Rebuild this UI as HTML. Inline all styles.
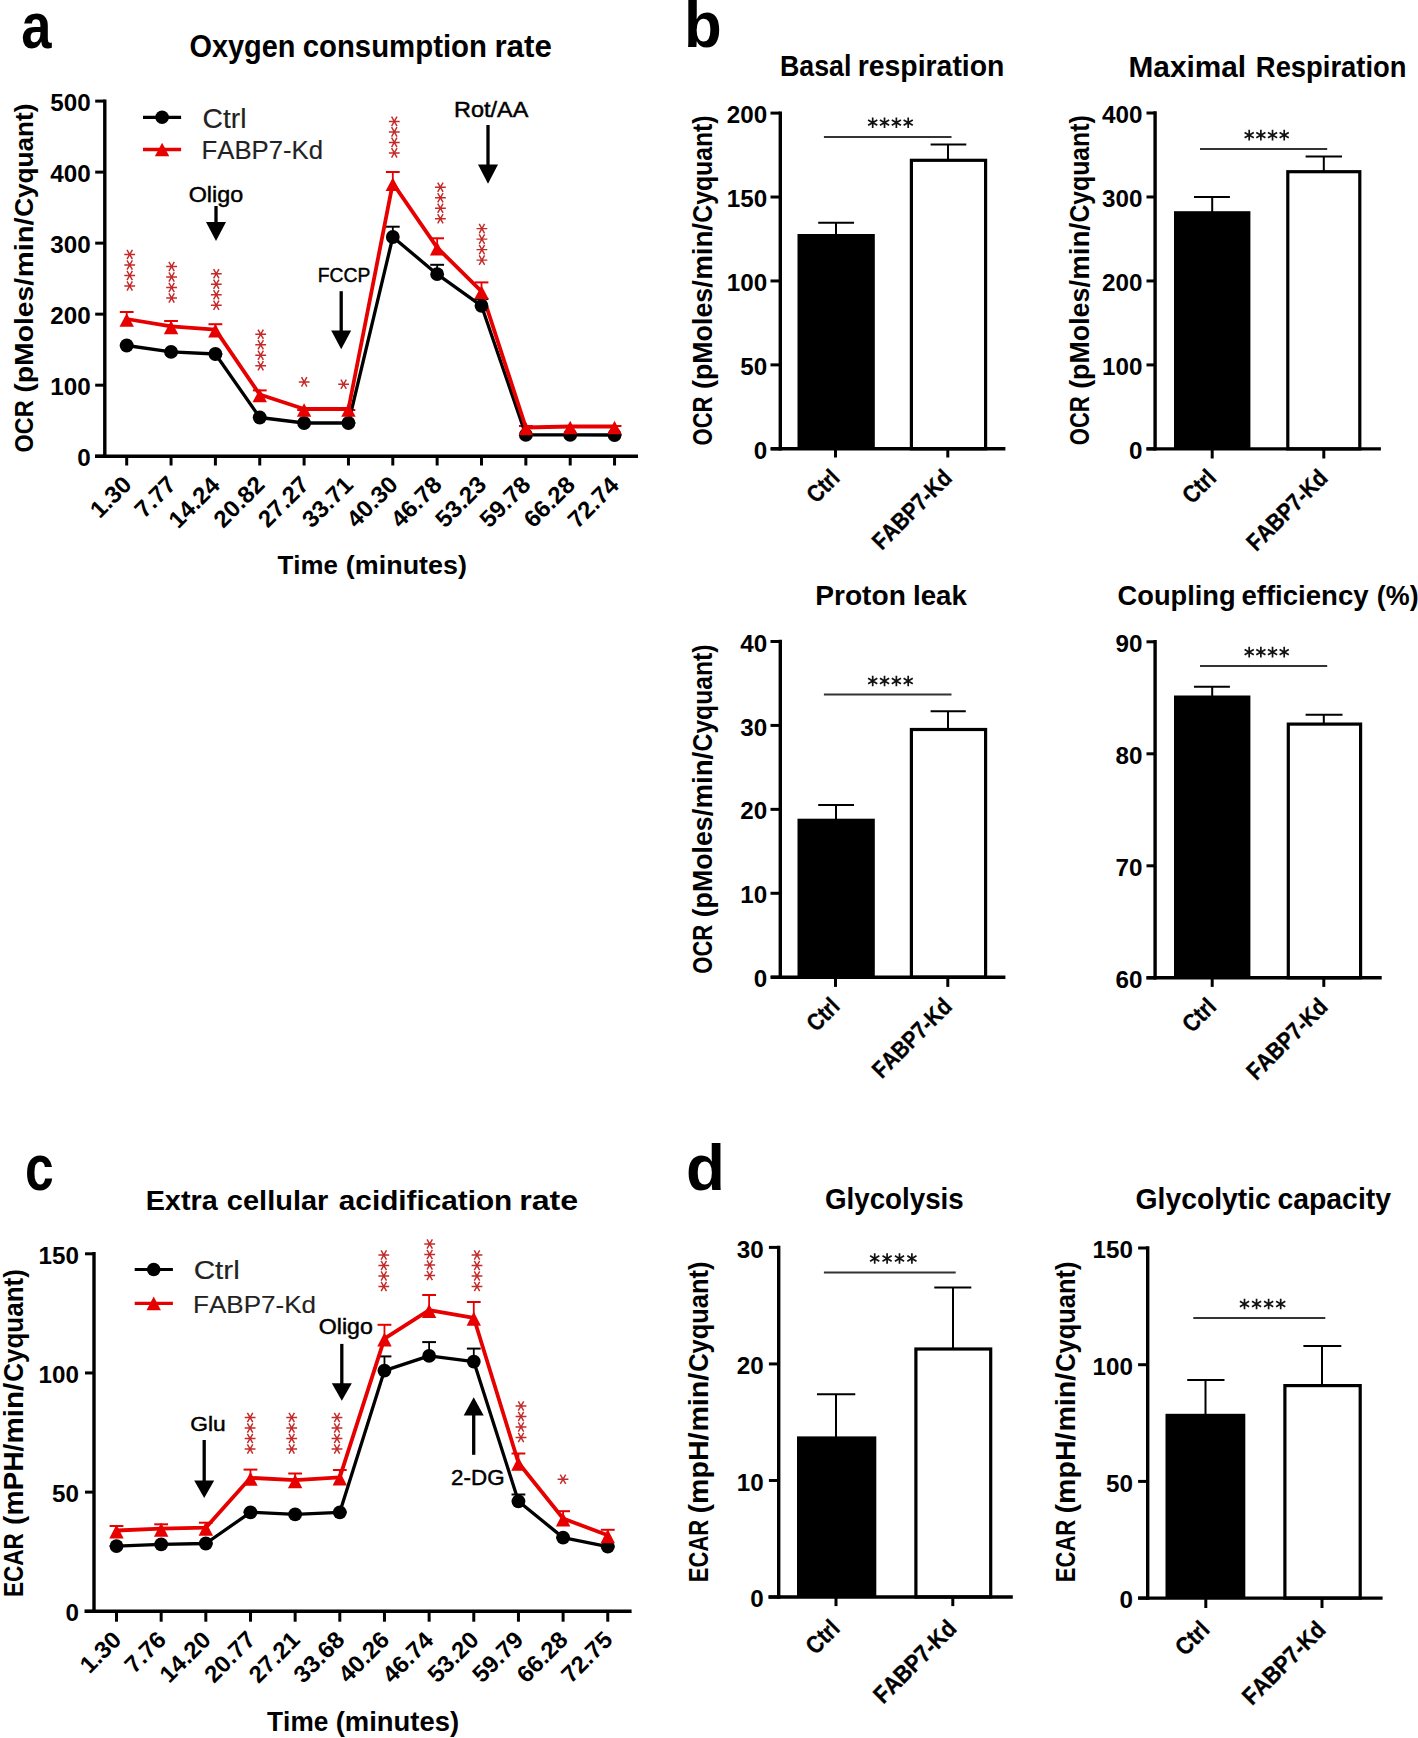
<!DOCTYPE html>
<html><head><meta charset="utf-8"><style>
html,body{margin:0;padding:0;background:#fff;}
svg{display:block;}
text{font-family:"Liberation Sans", sans-serif;font-kerning:none;}
</style></head><body>
<svg width="1418" height="1738" viewBox="0 0 1418 1738">
<rect width="1418" height="1738" fill="#fff"/>
<text transform="translate(21.21,47.57) scale(0.8489,1)" font-size="64.07" font-weight="bold" fill="#000">a</text>
<text transform="translate(189.41,56.70) scale(0.9096,1)" font-size="31.79" font-weight="bold" fill="#000">Oxygen</text>
<text transform="translate(302.65,56.70) scale(0.9238,1)" font-size="31.79" font-weight="bold" fill="#000">consumption</text>
<text transform="translate(494.44,56.70) scale(0.9847,1)" font-size="31.79" font-weight="bold" fill="#000">rate</text>
<text transform="translate(33.00,452.46) rotate(-90) scale(0.8888,1)" font-size="26.45" font-weight="bold" fill="#000">OCR</text>
<text transform="translate(33.00,392.71) rotate(-90) scale(1.0718,1)" font-size="26.45" font-weight="bold" fill="#000">(pMoles/</text>
<text transform="translate(33.00,277.33) rotate(-90) scale(1.1054,1)" font-size="26.45" font-weight="bold" fill="#000">min/</text>
<text transform="translate(33.00,216.87) rotate(-90) scale(0.9891,1)" font-size="26.45" font-weight="bold" fill="#000">Cyquant)</text>
<line x1="104.80" y1="99.40" x2="104.80" y2="457.90" stroke="#000" stroke-width="3.4" stroke-linecap="butt"/>
<line x1="95.20" y1="456.20" x2="104.80" y2="456.20" stroke="#000" stroke-width="3.0" stroke-linecap="butt"/>
<text transform="translate(77.31,466.32) scale(1.0270,1)" font-size="23.60" font-weight="bold" fill="#000">0</text>
<line x1="95.20" y1="385.18" x2="104.80" y2="385.18" stroke="#000" stroke-width="3.0" stroke-linecap="butt"/>
<text transform="translate(50.35,395.30) scale(1.0270,1)" font-size="23.60" font-weight="bold" fill="#000">100</text>
<line x1="95.20" y1="314.16" x2="104.80" y2="314.16" stroke="#000" stroke-width="3.0" stroke-linecap="butt"/>
<text transform="translate(50.35,324.28) scale(1.0270,1)" font-size="23.60" font-weight="bold" fill="#000">200</text>
<line x1="95.20" y1="243.14" x2="104.80" y2="243.14" stroke="#000" stroke-width="3.0" stroke-linecap="butt"/>
<text transform="translate(50.35,253.26) scale(1.0270,1)" font-size="23.60" font-weight="bold" fill="#000">300</text>
<line x1="95.20" y1="172.12" x2="104.80" y2="172.12" stroke="#000" stroke-width="3.0" stroke-linecap="butt"/>
<text transform="translate(50.35,182.24) scale(1.0270,1)" font-size="23.60" font-weight="bold" fill="#000">400</text>
<line x1="95.20" y1="101.10" x2="104.80" y2="101.10" stroke="#000" stroke-width="3.0" stroke-linecap="butt"/>
<text transform="translate(50.35,111.22) scale(1.0270,1)" font-size="23.60" font-weight="bold" fill="#000">500</text>
<line x1="95.00" y1="456.20" x2="638.00" y2="456.20" stroke="#000" stroke-width="3.4" stroke-linecap="butt"/>
<line x1="126.70" y1="456.20" x2="126.70" y2="465.50" stroke="#000" stroke-width="3.0" stroke-linecap="butt"/>
<line x1="171.05" y1="456.20" x2="171.05" y2="465.50" stroke="#000" stroke-width="3.0" stroke-linecap="butt"/>
<line x1="215.40" y1="456.20" x2="215.40" y2="465.50" stroke="#000" stroke-width="3.0" stroke-linecap="butt"/>
<line x1="259.75" y1="456.20" x2="259.75" y2="465.50" stroke="#000" stroke-width="3.0" stroke-linecap="butt"/>
<line x1="304.10" y1="456.20" x2="304.10" y2="465.50" stroke="#000" stroke-width="3.0" stroke-linecap="butt"/>
<line x1="348.45" y1="456.20" x2="348.45" y2="465.50" stroke="#000" stroke-width="3.0" stroke-linecap="butt"/>
<line x1="392.80" y1="456.20" x2="392.80" y2="465.50" stroke="#000" stroke-width="3.0" stroke-linecap="butt"/>
<line x1="437.15" y1="456.20" x2="437.15" y2="465.50" stroke="#000" stroke-width="3.0" stroke-linecap="butt"/>
<line x1="481.50" y1="456.20" x2="481.50" y2="465.50" stroke="#000" stroke-width="3.0" stroke-linecap="butt"/>
<line x1="525.85" y1="456.20" x2="525.85" y2="465.50" stroke="#000" stroke-width="3.0" stroke-linecap="butt"/>
<line x1="570.20" y1="456.20" x2="570.20" y2="465.50" stroke="#000" stroke-width="3.0" stroke-linecap="butt"/>
<line x1="614.55" y1="456.20" x2="614.55" y2="465.50" stroke="#000" stroke-width="3.0" stroke-linecap="butt"/>
<text transform="translate(132.40,486.70) rotate(-45) scale(1.0270,1)" x="-44.96" font-size="23.60" font-weight="bold" fill="#000">1.30</text>
<text transform="translate(176.75,486.70) rotate(-45) scale(1.0270,1)" x="-44.90" font-size="23.60" font-weight="bold" fill="#000">7.77</text>
<text transform="translate(221.10,486.70) rotate(-45) scale(1.0270,1)" x="-58.93" font-size="23.60" font-weight="bold" fill="#000">14.24</text>
<text transform="translate(265.45,486.70) rotate(-45) scale(1.0270,1)" x="-58.11" font-size="23.60" font-weight="bold" fill="#000">20.82</text>
<text transform="translate(309.80,486.70) rotate(-45) scale(1.0270,1)" x="-58.02" font-size="23.60" font-weight="bold" fill="#000">27.27</text>
<text transform="translate(354.15,486.70) rotate(-45) scale(1.0270,1)" x="-58.40" font-size="23.60" font-weight="bold" fill="#000">33.71</text>
<text transform="translate(398.50,486.70) rotate(-45) scale(1.0270,1)" x="-58.09" font-size="23.60" font-weight="bold" fill="#000">40.30</text>
<text transform="translate(442.85,486.70) rotate(-45) scale(1.0270,1)" x="-58.33" font-size="23.60" font-weight="bold" fill="#000">46.78</text>
<text transform="translate(487.20,486.70) rotate(-45) scale(1.0270,1)" x="-58.20" font-size="23.60" font-weight="bold" fill="#000">53.23</text>
<text transform="translate(531.55,486.70) rotate(-45) scale(1.0270,1)" x="-58.33" font-size="23.60" font-weight="bold" fill="#000">59.78</text>
<text transform="translate(575.90,486.70) rotate(-45) scale(1.0270,1)" x="-58.33" font-size="23.60" font-weight="bold" fill="#000">66.28</text>
<text transform="translate(620.25,486.70) rotate(-45) scale(1.0270,1)" x="-58.93" font-size="23.60" font-weight="bold" fill="#000">72.74</text>
<text transform="translate(277.51,574.30) scale(0.9998,1)" font-size="25.87" font-weight="bold" fill="#000">Time</text>
<text transform="translate(345.86,574.30) scale(1.0409,1)" font-size="25.87" font-weight="bold" fill="#000">(minutes)</text>
<line x1="143.00" y1="117.30" x2="181.10" y2="117.30" stroke="#000" stroke-width="3.2" stroke-linecap="butt"/>
<circle cx="162.10" cy="117.30" r="6.8" fill="#000"/>
<line x1="143.00" y1="149.50" x2="181.10" y2="149.50" stroke="#e60000" stroke-width="3.4" stroke-linecap="butt"/>
<polygon points="162.10,142.70 169.30,156.30 154.90,156.30" fill="#e60000"/>
<text transform="translate(202.57,127.90) scale(1.0284,1)" font-size="27.46" font-weight="normal" fill="#222" stroke="#222" stroke-width="0.15">Ctrl</text>
<text transform="translate(201.59,159.20) scale(1.0225,1)" font-size="25.15" font-weight="normal" fill="#222" stroke="#222" stroke-width="0.15">FABP7-Kd</text>
<line x1="126.70" y1="320.00" x2="126.70" y2="312.00" stroke="#e60000" stroke-width="1.8" stroke-linecap="butt"/>
<line x1="119.80" y1="312.00" x2="133.60" y2="312.00" stroke="#e60000" stroke-width="2.0" stroke-linecap="butt"/>
<line x1="126.70" y1="345.50" x2="126.70" y2="345.50" stroke="#000" stroke-width="1.8" stroke-linecap="butt"/>
<line x1="119.80" y1="345.50" x2="133.60" y2="345.50" stroke="#000" stroke-width="2.0" stroke-linecap="butt"/>
<line x1="171.05" y1="327.40" x2="171.05" y2="321.00" stroke="#e60000" stroke-width="1.8" stroke-linecap="butt"/>
<line x1="164.15" y1="321.00" x2="177.95" y2="321.00" stroke="#e60000" stroke-width="2.0" stroke-linecap="butt"/>
<line x1="171.05" y1="351.90" x2="171.05" y2="351.90" stroke="#000" stroke-width="1.8" stroke-linecap="butt"/>
<line x1="164.15" y1="351.90" x2="177.95" y2="351.90" stroke="#000" stroke-width="2.0" stroke-linecap="butt"/>
<line x1="215.40" y1="330.60" x2="215.40" y2="324.20" stroke="#e60000" stroke-width="1.8" stroke-linecap="butt"/>
<line x1="208.50" y1="324.20" x2="222.30" y2="324.20" stroke="#e60000" stroke-width="2.0" stroke-linecap="butt"/>
<line x1="215.40" y1="354.00" x2="215.40" y2="354.00" stroke="#000" stroke-width="1.8" stroke-linecap="butt"/>
<line x1="208.50" y1="354.00" x2="222.30" y2="354.00" stroke="#000" stroke-width="2.0" stroke-linecap="butt"/>
<line x1="259.75" y1="395.50" x2="259.75" y2="390.40" stroke="#e60000" stroke-width="1.8" stroke-linecap="butt"/>
<line x1="252.85" y1="390.40" x2="266.65" y2="390.40" stroke="#e60000" stroke-width="2.0" stroke-linecap="butt"/>
<line x1="259.75" y1="417.50" x2="259.75" y2="417.50" stroke="#000" stroke-width="1.8" stroke-linecap="butt"/>
<line x1="252.85" y1="417.50" x2="266.65" y2="417.50" stroke="#000" stroke-width="2.0" stroke-linecap="butt"/>
<line x1="304.10" y1="410.00" x2="304.10" y2="410.00" stroke="#e60000" stroke-width="1.8" stroke-linecap="butt"/>
<line x1="297.20" y1="410.00" x2="311.00" y2="410.00" stroke="#e60000" stroke-width="2.0" stroke-linecap="butt"/>
<line x1="304.10" y1="423.00" x2="304.10" y2="423.00" stroke="#000" stroke-width="1.8" stroke-linecap="butt"/>
<line x1="297.20" y1="423.00" x2="311.00" y2="423.00" stroke="#000" stroke-width="2.0" stroke-linecap="butt"/>
<line x1="348.45" y1="410.00" x2="348.45" y2="410.00" stroke="#e60000" stroke-width="1.8" stroke-linecap="butt"/>
<line x1="341.55" y1="410.00" x2="355.35" y2="410.00" stroke="#e60000" stroke-width="2.0" stroke-linecap="butt"/>
<line x1="348.45" y1="423.00" x2="348.45" y2="423.00" stroke="#000" stroke-width="1.8" stroke-linecap="butt"/>
<line x1="341.55" y1="423.00" x2="355.35" y2="423.00" stroke="#000" stroke-width="2.0" stroke-linecap="butt"/>
<line x1="392.80" y1="184.20" x2="392.80" y2="172.00" stroke="#e60000" stroke-width="1.8" stroke-linecap="butt"/>
<line x1="385.90" y1="172.00" x2="399.70" y2="172.00" stroke="#e60000" stroke-width="2.0" stroke-linecap="butt"/>
<line x1="392.80" y1="237.00" x2="392.80" y2="226.70" stroke="#000" stroke-width="1.8" stroke-linecap="butt"/>
<line x1="385.90" y1="226.70" x2="399.70" y2="226.70" stroke="#000" stroke-width="2.0" stroke-linecap="butt"/>
<line x1="437.15" y1="248.60" x2="437.15" y2="238.30" stroke="#e60000" stroke-width="1.8" stroke-linecap="butt"/>
<line x1="430.25" y1="238.30" x2="444.05" y2="238.30" stroke="#e60000" stroke-width="2.0" stroke-linecap="butt"/>
<line x1="437.15" y1="274.20" x2="437.15" y2="264.80" stroke="#000" stroke-width="1.8" stroke-linecap="butt"/>
<line x1="430.25" y1="264.80" x2="444.05" y2="264.80" stroke="#000" stroke-width="2.0" stroke-linecap="butt"/>
<line x1="481.50" y1="292.30" x2="481.50" y2="282.40" stroke="#e60000" stroke-width="1.8" stroke-linecap="butt"/>
<line x1="474.60" y1="282.40" x2="488.40" y2="282.40" stroke="#e60000" stroke-width="2.0" stroke-linecap="butt"/>
<line x1="481.50" y1="305.80" x2="481.50" y2="299.00" stroke="#000" stroke-width="1.8" stroke-linecap="butt"/>
<line x1="474.60" y1="299.00" x2="488.40" y2="299.00" stroke="#000" stroke-width="2.0" stroke-linecap="butt"/>
<line x1="525.85" y1="428.50" x2="525.85" y2="426.00" stroke="#e60000" stroke-width="1.8" stroke-linecap="butt"/>
<line x1="518.95" y1="426.00" x2="532.75" y2="426.00" stroke="#e60000" stroke-width="2.0" stroke-linecap="butt"/>
<line x1="525.85" y1="434.90" x2="525.85" y2="434.90" stroke="#000" stroke-width="1.8" stroke-linecap="butt"/>
<line x1="518.95" y1="434.90" x2="532.75" y2="434.90" stroke="#000" stroke-width="2.0" stroke-linecap="butt"/>
<line x1="570.20" y1="427.50" x2="570.20" y2="426.00" stroke="#e60000" stroke-width="1.8" stroke-linecap="butt"/>
<line x1="563.30" y1="426.00" x2="577.10" y2="426.00" stroke="#e60000" stroke-width="2.0" stroke-linecap="butt"/>
<line x1="570.20" y1="434.90" x2="570.20" y2="434.90" stroke="#000" stroke-width="1.8" stroke-linecap="butt"/>
<line x1="563.30" y1="434.90" x2="577.10" y2="434.90" stroke="#000" stroke-width="2.0" stroke-linecap="butt"/>
<line x1="614.55" y1="427.50" x2="614.55" y2="426.00" stroke="#e60000" stroke-width="1.8" stroke-linecap="butt"/>
<line x1="607.65" y1="426.00" x2="621.45" y2="426.00" stroke="#e60000" stroke-width="2.0" stroke-linecap="butt"/>
<line x1="614.55" y1="435.00" x2="614.55" y2="435.00" stroke="#000" stroke-width="1.8" stroke-linecap="butt"/>
<line x1="607.65" y1="435.00" x2="621.45" y2="435.00" stroke="#000" stroke-width="2.0" stroke-linecap="butt"/>
<polyline points="126.70,345.50 171.05,351.90 215.40,354.00 259.75,417.50 304.10,423.00 348.45,423.00 392.80,237.00 437.15,274.20 481.50,305.80 525.85,434.90 570.20,434.90 614.55,435.00" fill="none" stroke="#000" stroke-width="3.3" stroke-linejoin="round"/>
<polyline points="126.70,319.00 171.05,326.40 215.40,329.60 259.75,394.50 304.10,409.00 348.45,409.00 392.80,183.20 437.15,247.60 481.50,291.30 525.85,427.50 570.20,426.50 614.55,426.50" fill="none" stroke="#e60000" stroke-width="3.8" stroke-linejoin="round"/>
<circle cx="126.70" cy="345.50" r="6.9" fill="#000"/>
<circle cx="171.05" cy="351.90" r="6.9" fill="#000"/>
<circle cx="215.40" cy="354.00" r="6.9" fill="#000"/>
<circle cx="259.75" cy="417.50" r="6.9" fill="#000"/>
<circle cx="304.10" cy="423.00" r="6.9" fill="#000"/>
<circle cx="348.45" cy="423.00" r="6.9" fill="#000"/>
<circle cx="392.80" cy="237.00" r="6.9" fill="#000"/>
<circle cx="437.15" cy="274.20" r="6.9" fill="#000"/>
<circle cx="481.50" cy="305.80" r="6.9" fill="#000"/>
<circle cx="525.85" cy="434.90" r="6.9" fill="#000"/>
<circle cx="570.20" cy="434.90" r="6.9" fill="#000"/>
<circle cx="614.55" cy="435.00" r="6.9" fill="#000"/>
<polygon points="126.70,313.20 133.90,326.80 119.50,326.80" fill="#e60000"/>
<polygon points="171.05,320.60 178.25,334.20 163.85,334.20" fill="#e60000"/>
<polygon points="215.40,323.80 222.60,337.40 208.20,337.40" fill="#e60000"/>
<polygon points="259.75,388.70 266.95,402.30 252.55,402.30" fill="#e60000"/>
<polygon points="304.10,403.20 311.30,416.80 296.90,416.80" fill="#e60000"/>
<polygon points="348.45,403.20 355.65,416.80 341.25,416.80" fill="#e60000"/>
<polygon points="392.80,177.40 400.00,191.00 385.60,191.00" fill="#e60000"/>
<polygon points="437.15,241.80 444.35,255.40 429.95,255.40" fill="#e60000"/>
<polygon points="481.50,285.50 488.70,299.10 474.30,299.10" fill="#e60000"/>
<polygon points="525.85,421.70 533.05,435.30 518.65,435.30" fill="#e60000"/>
<polygon points="570.20,420.70 577.40,434.30 563.00,434.30" fill="#e60000"/>
<polygon points="614.55,420.70 621.75,434.30 607.35,434.30" fill="#e60000"/>
<path d="M124.30,254.50H135.10M127.00,249.82L132.40,259.18M127.00,259.18L132.40,249.82" stroke="#c42a2a" stroke-width="1.45" fill="none"/>
<path d="M124.30,265.00H135.10M127.00,260.32L132.40,269.68M127.00,269.68L132.40,260.32" stroke="#c42a2a" stroke-width="1.45" fill="none"/>
<path d="M124.30,275.50H135.10M127.00,270.82L132.40,280.18M127.00,280.18L132.40,270.82" stroke="#c42a2a" stroke-width="1.45" fill="none"/>
<path d="M124.30,286.00H135.10M127.00,281.32L132.40,290.68M127.00,290.68L132.40,281.32" stroke="#c42a2a" stroke-width="1.45" fill="none"/>
<path d="M166.20,266.50H177.00M168.90,261.82L174.30,271.18M168.90,271.18L174.30,261.82" stroke="#c42a2a" stroke-width="1.45" fill="none"/>
<path d="M166.20,277.00H177.00M168.90,272.32L174.30,281.68M168.90,281.68L174.30,272.32" stroke="#c42a2a" stroke-width="1.45" fill="none"/>
<path d="M166.20,287.50H177.00M168.90,282.82L174.30,292.18M168.90,292.18L174.30,282.82" stroke="#c42a2a" stroke-width="1.45" fill="none"/>
<path d="M166.20,298.00H177.00M168.90,293.32L174.30,302.68M168.90,302.68L174.30,293.32" stroke="#c42a2a" stroke-width="1.45" fill="none"/>
<path d="M210.90,273.80H221.70M213.60,269.12L219.00,278.48M213.60,278.48L219.00,269.12" stroke="#c42a2a" stroke-width="1.45" fill="none"/>
<path d="M210.90,284.30H221.70M213.60,279.62L219.00,288.98M213.60,288.98L219.00,279.62" stroke="#c42a2a" stroke-width="1.45" fill="none"/>
<path d="M210.90,294.80H221.70M213.60,290.12L219.00,299.48M213.60,299.48L219.00,290.12" stroke="#c42a2a" stroke-width="1.45" fill="none"/>
<path d="M210.90,305.30H221.70M213.60,300.62L219.00,309.98M213.60,309.98L219.00,300.62" stroke="#c42a2a" stroke-width="1.45" fill="none"/>
<path d="M255.30,334.30H266.10M258.00,329.62L263.40,338.98M258.00,338.98L263.40,329.62" stroke="#c42a2a" stroke-width="1.45" fill="none"/>
<path d="M255.30,344.80H266.10M258.00,340.12L263.40,349.48M258.00,349.48L263.40,340.12" stroke="#c42a2a" stroke-width="1.45" fill="none"/>
<path d="M255.30,355.30H266.10M258.00,350.62L263.40,359.98M258.00,359.98L263.40,350.62" stroke="#c42a2a" stroke-width="1.45" fill="none"/>
<path d="M255.30,365.80H266.10M258.00,361.12L263.40,370.48M258.00,370.48L263.40,361.12" stroke="#c42a2a" stroke-width="1.45" fill="none"/>
<path d="M298.80,381.90H309.60M301.50,377.22L306.90,386.58M301.50,386.58L306.90,377.22" stroke="#c42a2a" stroke-width="1.45" fill="none"/>
<path d="M338.20,384.20H349.00M340.90,379.52L346.30,388.88M340.90,388.88L346.30,379.52" stroke="#c42a2a" stroke-width="1.45" fill="none"/>
<path d="M388.90,121.40H399.70M391.60,116.72L397.00,126.08M391.60,126.08L397.00,116.72" stroke="#c42a2a" stroke-width="1.45" fill="none"/>
<path d="M388.90,131.90H399.70M391.60,127.22L397.00,136.58M391.60,136.58L397.00,127.22" stroke="#c42a2a" stroke-width="1.45" fill="none"/>
<path d="M388.90,142.40H399.70M391.60,137.72L397.00,147.08M391.60,147.08L397.00,137.72" stroke="#c42a2a" stroke-width="1.45" fill="none"/>
<path d="M388.90,152.90H399.70M391.60,148.22L397.00,157.58M391.60,157.58L397.00,148.22" stroke="#c42a2a" stroke-width="1.45" fill="none"/>
<path d="M435.00,187.20H445.80M437.70,182.52L443.10,191.88M437.70,191.88L443.10,182.52" stroke="#c42a2a" stroke-width="1.45" fill="none"/>
<path d="M435.00,197.70H445.80M437.70,193.02L443.10,202.38M437.70,202.38L443.10,193.02" stroke="#c42a2a" stroke-width="1.45" fill="none"/>
<path d="M435.00,208.20H445.80M437.70,203.52L443.10,212.88M437.70,212.88L443.10,203.52" stroke="#c42a2a" stroke-width="1.45" fill="none"/>
<path d="M435.00,218.70H445.80M437.70,214.02L443.10,223.38M437.70,223.38L443.10,214.02" stroke="#c42a2a" stroke-width="1.45" fill="none"/>
<path d="M476.50,228.60H487.30M479.20,223.92L484.60,233.28M479.20,233.28L484.60,223.92" stroke="#c42a2a" stroke-width="1.45" fill="none"/>
<path d="M476.50,239.10H487.30M479.20,234.42L484.60,243.78M479.20,243.78L484.60,234.42" stroke="#c42a2a" stroke-width="1.45" fill="none"/>
<path d="M476.50,249.60H487.30M479.20,244.92L484.60,254.28M479.20,254.28L484.60,244.92" stroke="#c42a2a" stroke-width="1.45" fill="none"/>
<path d="M476.50,260.10H487.30M479.20,255.42L484.60,264.78M479.20,264.78L484.60,255.42" stroke="#c42a2a" stroke-width="1.45" fill="none"/>
<line x1="216.00" y1="206.00" x2="216.00" y2="223.00" stroke="#000" stroke-width="3.3" stroke-linecap="butt"/>
<polygon points="206.00,222.00 226.00,222.00 216.00,241.00" fill="#000"/>
<text transform="translate(188.69,202.20) scale(1.0651,1)" font-size="21.91" font-weight="normal" fill="#000" stroke="#000" stroke-width="0.45">Oligo</text>
<line x1="341.20" y1="291.20" x2="341.20" y2="331.60" stroke="#000" stroke-width="3.3" stroke-linecap="butt"/>
<polygon points="331.20,330.60 351.20,330.60 341.20,349.30" fill="#000"/>
<text transform="translate(317.71,282.00) scale(0.9363,1)" font-size="20.64" font-weight="normal" fill="#000" stroke="#000" stroke-width="0.45">FCCP</text>
<line x1="488.00" y1="125.00" x2="488.00" y2="165.50" stroke="#000" stroke-width="3.3" stroke-linecap="butt"/>
<polygon points="478.00,164.50 498.00,164.50 488.00,183.70" fill="#000"/>
<text transform="translate(454.07,116.60) scale(1.0840,1)" font-size="21.66" font-weight="normal" fill="#000" stroke="#000" stroke-width="0.45">Rot/AA</text>
<text transform="translate(683.93,47.20) scale(0.9633,1)" font-size="64.07" font-weight="bold" fill="#000">b</text>
<text transform="translate(780.01,76.00) scale(0.9342,1)" font-size="28.63" font-weight="bold" fill="#000">Basal</text>
<text transform="translate(857.73,76.00) scale(0.9916,1)" font-size="28.63" font-weight="bold" fill="#000">respiration</text>
<text transform="translate(711.80,445.40) rotate(-90) scale(0.7960,1)" font-size="27.62" font-weight="bold" fill="#000">OCR</text>
<text transform="translate(711.80,389.04) rotate(-90) scale(0.9715,1)" font-size="27.62" font-weight="bold" fill="#000">(pMoles/</text>
<text transform="translate(711.80,279.85) rotate(-90) scale(1.0020,1)" font-size="27.62" font-weight="bold" fill="#000">min/</text>
<text transform="translate(711.80,222.65) rotate(-90) scale(0.8965,1)" font-size="27.62" font-weight="bold" fill="#000">Cyquant)</text>
<rect x="797.50" y="234.00" width="77.30" height="214.80" fill="#000"/>
<line x1="836.00" y1="235.00" x2="836.00" y2="222.70" stroke="#000" stroke-width="2.0" stroke-linecap="butt"/>
<line x1="818.20" y1="222.70" x2="854.00" y2="222.70" stroke="#000" stroke-width="2.0" stroke-linecap="butt"/>
<line x1="948.00" y1="159.70" x2="948.00" y2="144.40" stroke="#000" stroke-width="2.0" stroke-linecap="butt"/>
<line x1="930.60" y1="144.40" x2="966.30" y2="144.40" stroke="#000" stroke-width="2.0" stroke-linecap="butt"/>
<rect x="911.40" y="160.30" width="74.20" height="288.50" fill="#fff" stroke="#000" stroke-width="3.2"/>
<line x1="780.30" y1="111.40" x2="780.30" y2="450.50" stroke="#000" stroke-width="3.4" stroke-linecap="butt"/>
<line x1="770.50" y1="448.80" x2="780.30" y2="448.80" stroke="#000" stroke-width="3.0" stroke-linecap="butt"/>
<text transform="translate(753.81,458.92) scale(1.0270,1)" font-size="23.60" font-weight="bold" fill="#000">0</text>
<line x1="770.50" y1="364.88" x2="780.30" y2="364.88" stroke="#000" stroke-width="3.0" stroke-linecap="butt"/>
<text transform="translate(740.33,375.00) scale(1.0270,1)" font-size="23.60" font-weight="bold" fill="#000">50</text>
<line x1="770.50" y1="280.95" x2="780.30" y2="280.95" stroke="#000" stroke-width="3.0" stroke-linecap="butt"/>
<text transform="translate(726.85,291.07) scale(1.0270,1)" font-size="23.60" font-weight="bold" fill="#000">100</text>
<line x1="770.50" y1="197.02" x2="780.30" y2="197.02" stroke="#000" stroke-width="3.0" stroke-linecap="butt"/>
<text transform="translate(726.85,207.15) scale(1.0270,1)" font-size="23.60" font-weight="bold" fill="#000">150</text>
<line x1="770.50" y1="113.10" x2="780.30" y2="113.10" stroke="#000" stroke-width="3.0" stroke-linecap="butt"/>
<text transform="translate(726.85,123.22) scale(1.0270,1)" font-size="23.60" font-weight="bold" fill="#000">200</text>
<line x1="770.80" y1="448.80" x2="1005.40" y2="448.80" stroke="#000" stroke-width="3.4" stroke-linecap="butt"/>
<line x1="835.50" y1="448.80" x2="835.50" y2="457.50" stroke="#000" stroke-width="3.0" stroke-linecap="butt"/>
<line x1="947.80" y1="448.80" x2="947.80" y2="457.50" stroke="#000" stroke-width="3.0" stroke-linecap="butt"/>
<line x1="823.90" y1="137.00" x2="951.50" y2="137.00" stroke="#333" stroke-width="2.0" stroke-linecap="butt"/>
<path d="M872.70,117.40V128.00M868.11,120.05L877.29,125.35M868.11,125.35L877.29,120.05" stroke="#111" stroke-width="1.7" fill="none"/>
<path d="M884.53,117.40V128.00M879.94,120.05L889.12,125.35M879.94,125.35L889.12,120.05" stroke="#111" stroke-width="1.7" fill="none"/>
<path d="M896.37,117.40V128.00M891.78,120.05L900.96,125.35M891.78,125.35L900.96,120.05" stroke="#111" stroke-width="1.7" fill="none"/>
<path d="M908.20,117.40V128.00M903.61,120.05L912.79,125.35M903.61,125.35L912.79,120.05" stroke="#111" stroke-width="1.7" fill="none"/>
<text transform="translate(840.10,480.40) rotate(-45) scale(0.8610,1)" x="-39.30" font-size="23.80" font-weight="bold" fill="#000" stroke="#000" stroke-width="0.35">Ctrl</text>
<text transform="translate(952.40,480.40) rotate(-45) scale(0.8602,1)" x="-116.11" font-size="23.80" font-weight="bold" fill="#000" stroke="#000" stroke-width="0.35">FABP7-Kd</text>
<text transform="translate(1128.51,76.70) scale(0.9905,1)" font-size="30.09" font-weight="bold" fill="#000">Maximal</text>
<text transform="translate(1255.87,76.70) scale(0.9101,1)" font-size="30.09" font-weight="bold" fill="#000">Respiration</text>
<text transform="translate(1089.00,445.20) rotate(-90) scale(0.7960,1)" font-size="27.62" font-weight="bold" fill="#000">OCR</text>
<text transform="translate(1089.00,388.84) rotate(-90) scale(0.9707,1)" font-size="27.62" font-weight="bold" fill="#000">(pMoles/</text>
<text transform="translate(1089.00,279.73) rotate(-90) scale(1.0012,1)" font-size="27.62" font-weight="bold" fill="#000">min/</text>
<text transform="translate(1089.00,222.57) rotate(-90) scale(0.8959,1)" font-size="27.62" font-weight="bold" fill="#000">Cyquant)</text>
<rect x="1174.00" y="211.20" width="76.40" height="237.70" fill="#000"/>
<line x1="1212.20" y1="212.20" x2="1212.20" y2="196.90" stroke="#000" stroke-width="2.0" stroke-linecap="butt"/>
<line x1="1194.00" y1="196.90" x2="1229.90" y2="196.90" stroke="#000" stroke-width="2.0" stroke-linecap="butt"/>
<line x1="1323.80" y1="171.10" x2="1323.80" y2="156.40" stroke="#000" stroke-width="2.0" stroke-linecap="butt"/>
<line x1="1305.60" y1="156.40" x2="1342.00" y2="156.40" stroke="#000" stroke-width="2.0" stroke-linecap="butt"/>
<rect x="1287.80" y="171.70" width="72.00" height="277.20" fill="#fff" stroke="#000" stroke-width="3.2"/>
<line x1="1155.10" y1="111.30" x2="1155.10" y2="450.60" stroke="#000" stroke-width="3.4" stroke-linecap="butt"/>
<line x1="1146.50" y1="448.90" x2="1155.10" y2="448.90" stroke="#000" stroke-width="3.0" stroke-linecap="butt"/>
<text transform="translate(1128.91,459.02) scale(1.0270,1)" font-size="23.60" font-weight="bold" fill="#000">0</text>
<line x1="1146.50" y1="364.92" x2="1155.10" y2="364.92" stroke="#000" stroke-width="3.0" stroke-linecap="butt"/>
<text transform="translate(1101.95,375.05) scale(1.0270,1)" font-size="23.60" font-weight="bold" fill="#000">100</text>
<line x1="1146.50" y1="280.95" x2="1155.10" y2="280.95" stroke="#000" stroke-width="3.0" stroke-linecap="butt"/>
<text transform="translate(1101.95,291.07) scale(1.0270,1)" font-size="23.60" font-weight="bold" fill="#000">200</text>
<line x1="1146.50" y1="196.97" x2="1155.10" y2="196.97" stroke="#000" stroke-width="3.0" stroke-linecap="butt"/>
<text transform="translate(1101.95,207.10) scale(1.0270,1)" font-size="23.60" font-weight="bold" fill="#000">300</text>
<line x1="1146.50" y1="113.00" x2="1155.10" y2="113.00" stroke="#000" stroke-width="3.0" stroke-linecap="butt"/>
<text transform="translate(1101.95,123.12) scale(1.0270,1)" font-size="23.60" font-weight="bold" fill="#000">400</text>
<line x1="1146.50" y1="448.90" x2="1380.90" y2="448.90" stroke="#000" stroke-width="3.4" stroke-linecap="butt"/>
<line x1="1212.20" y1="448.90" x2="1212.20" y2="458.50" stroke="#000" stroke-width="3.0" stroke-linecap="butt"/>
<line x1="1323.80" y1="448.90" x2="1323.80" y2="458.50" stroke="#000" stroke-width="3.0" stroke-linecap="butt"/>
<line x1="1200.00" y1="148.90" x2="1327.20" y2="148.90" stroke="#333" stroke-width="2.0" stroke-linecap="butt"/>
<path d="M1249.20,129.80V140.40M1244.61,132.45L1253.79,137.75M1244.61,137.75L1253.79,132.45" stroke="#111" stroke-width="1.7" fill="none"/>
<path d="M1260.87,129.80V140.40M1256.28,132.45L1265.46,137.75M1256.28,137.75L1265.46,132.45" stroke="#111" stroke-width="1.7" fill="none"/>
<path d="M1272.53,129.80V140.40M1267.94,132.45L1277.12,137.75M1267.94,137.75L1277.12,132.45" stroke="#111" stroke-width="1.7" fill="none"/>
<path d="M1284.20,129.80V140.40M1279.61,132.45L1288.79,137.75M1279.61,137.75L1288.79,132.45" stroke="#111" stroke-width="1.7" fill="none"/>
<text transform="translate(1216.60,480.30) rotate(-45) scale(0.8797,1)" x="-39.63" font-size="24.00" font-weight="bold" fill="#000" stroke="#000" stroke-width="0.35">Ctrl</text>
<text transform="translate(1328.20,480.30) rotate(-45) scale(0.8703,1)" x="-117.08" font-size="24.00" font-weight="bold" fill="#000" stroke="#000" stroke-width="0.35">FABP7-Kd</text>
<text transform="translate(815.22,604.80) scale(0.9874,1)" font-size="28.49" font-weight="bold" fill="#000">Proton</text>
<text transform="translate(912.97,604.80) scale(0.9722,1)" font-size="28.49" font-weight="bold" fill="#000">leak</text>
<text transform="translate(711.80,973.70) rotate(-90) scale(0.7960,1)" font-size="27.62" font-weight="bold" fill="#000">OCR</text>
<text transform="translate(711.80,917.33) rotate(-90) scale(0.9686,1)" font-size="27.62" font-weight="bold" fill="#000">(pMoles/</text>
<text transform="translate(711.80,808.47) rotate(-90) scale(0.9990,1)" font-size="27.62" font-weight="bold" fill="#000">min/</text>
<text transform="translate(711.80,751.44) rotate(-90) scale(0.8939,1)" font-size="27.62" font-weight="bold" fill="#000">Cyquant)</text>
<rect x="797.50" y="818.70" width="77.30" height="158.50" fill="#000"/>
<line x1="836.00" y1="819.70" x2="836.00" y2="805.10" stroke="#000" stroke-width="2.0" stroke-linecap="butt"/>
<line x1="818.20" y1="805.10" x2="854.00" y2="805.10" stroke="#000" stroke-width="2.0" stroke-linecap="butt"/>
<line x1="948.00" y1="728.90" x2="948.00" y2="711.30" stroke="#000" stroke-width="2.0" stroke-linecap="butt"/>
<line x1="930.60" y1="711.30" x2="965.80" y2="711.30" stroke="#000" stroke-width="2.0" stroke-linecap="butt"/>
<rect x="911.40" y="729.50" width="74.20" height="247.70" fill="#fff" stroke="#000" stroke-width="3.2"/>
<line x1="780.30" y1="639.80" x2="780.30" y2="978.90" stroke="#000" stroke-width="3.4" stroke-linecap="butt"/>
<line x1="770.50" y1="977.20" x2="780.30" y2="977.20" stroke="#000" stroke-width="3.0" stroke-linecap="butt"/>
<text transform="translate(753.81,987.32) scale(1.0270,1)" font-size="23.60" font-weight="bold" fill="#000">0</text>
<line x1="770.50" y1="893.28" x2="780.30" y2="893.28" stroke="#000" stroke-width="3.0" stroke-linecap="butt"/>
<text transform="translate(740.33,903.40) scale(1.0270,1)" font-size="23.60" font-weight="bold" fill="#000">10</text>
<line x1="770.50" y1="809.35" x2="780.30" y2="809.35" stroke="#000" stroke-width="3.0" stroke-linecap="butt"/>
<text transform="translate(740.33,819.47) scale(1.0270,1)" font-size="23.60" font-weight="bold" fill="#000">20</text>
<line x1="770.50" y1="725.42" x2="780.30" y2="725.42" stroke="#000" stroke-width="3.0" stroke-linecap="butt"/>
<text transform="translate(740.33,735.55) scale(1.0270,1)" font-size="23.60" font-weight="bold" fill="#000">30</text>
<line x1="770.50" y1="641.50" x2="780.30" y2="641.50" stroke="#000" stroke-width="3.0" stroke-linecap="butt"/>
<text transform="translate(740.33,651.62) scale(1.0270,1)" font-size="23.60" font-weight="bold" fill="#000">40</text>
<line x1="770.80" y1="977.20" x2="1005.40" y2="977.20" stroke="#000" stroke-width="3.4" stroke-linecap="butt"/>
<line x1="835.50" y1="977.20" x2="835.50" y2="986.90" stroke="#000" stroke-width="3.0" stroke-linecap="butt"/>
<line x1="947.80" y1="977.20" x2="947.80" y2="986.90" stroke="#000" stroke-width="3.0" stroke-linecap="butt"/>
<line x1="823.90" y1="694.50" x2="951.50" y2="694.50" stroke="#333" stroke-width="2.0" stroke-linecap="butt"/>
<path d="M872.70,675.70V686.30M868.11,678.35L877.29,683.65M868.11,683.65L877.29,678.35" stroke="#111" stroke-width="1.7" fill="none"/>
<path d="M884.53,675.70V686.30M879.94,678.35L889.12,683.65M879.94,683.65L889.12,678.35" stroke="#111" stroke-width="1.7" fill="none"/>
<path d="M896.37,675.70V686.30M891.78,678.35L900.96,683.65M891.78,683.65L900.96,678.35" stroke="#111" stroke-width="1.7" fill="none"/>
<path d="M908.20,675.70V686.30M903.61,678.35L912.79,683.65M903.61,683.65L912.79,678.35" stroke="#111" stroke-width="1.7" fill="none"/>
<text transform="translate(840.10,1008.80) rotate(-45) scale(0.8610,1)" x="-39.30" font-size="23.80" font-weight="bold" fill="#000" stroke="#000" stroke-width="0.35">Ctrl</text>
<text transform="translate(952.40,1008.80) rotate(-45) scale(0.8602,1)" x="-116.11" font-size="23.80" font-weight="bold" fill="#000" stroke="#000" stroke-width="0.35">FABP7-Kd</text>
<text transform="translate(1117.58,605.40) scale(0.9807,1)" font-size="27.78" font-weight="bold" fill="#000">Coupling</text>
<text transform="translate(1241.42,605.40) scale(0.9926,1)" font-size="27.78" font-weight="bold" fill="#000">efficiency</text>
<text transform="translate(1376.86,605.40) scale(0.9668,1)" font-size="27.78" font-weight="bold" fill="#000">(%)</text>
<rect x="1174.00" y="695.50" width="76.40" height="282.30" fill="#000"/>
<line x1="1212.20" y1="696.50" x2="1212.20" y2="686.70" stroke="#000" stroke-width="2.0" stroke-linecap="butt"/>
<line x1="1194.00" y1="686.70" x2="1229.90" y2="686.70" stroke="#000" stroke-width="2.0" stroke-linecap="butt"/>
<line x1="1323.80" y1="723.50" x2="1323.80" y2="714.70" stroke="#000" stroke-width="2.0" stroke-linecap="butt"/>
<line x1="1305.60" y1="714.70" x2="1342.50" y2="714.70" stroke="#000" stroke-width="2.0" stroke-linecap="butt"/>
<rect x="1288.30" y="724.10" width="72.30" height="253.70" fill="#fff" stroke="#000" stroke-width="3.2"/>
<line x1="1155.10" y1="640.10" x2="1155.10" y2="979.50" stroke="#000" stroke-width="3.4" stroke-linecap="butt"/>
<line x1="1146.50" y1="977.80" x2="1155.10" y2="977.80" stroke="#000" stroke-width="3.0" stroke-linecap="butt"/>
<text transform="translate(1115.43,987.92) scale(1.0270,1)" font-size="23.60" font-weight="bold" fill="#000">60</text>
<line x1="1146.50" y1="865.80" x2="1155.10" y2="865.80" stroke="#000" stroke-width="3.0" stroke-linecap="butt"/>
<text transform="translate(1115.43,875.92) scale(1.0270,1)" font-size="23.60" font-weight="bold" fill="#000">70</text>
<line x1="1146.50" y1="753.80" x2="1155.10" y2="753.80" stroke="#000" stroke-width="3.0" stroke-linecap="butt"/>
<text transform="translate(1115.43,763.92) scale(1.0270,1)" font-size="23.60" font-weight="bold" fill="#000">80</text>
<line x1="1146.50" y1="641.80" x2="1155.10" y2="641.80" stroke="#000" stroke-width="3.0" stroke-linecap="butt"/>
<text transform="translate(1115.43,651.92) scale(1.0270,1)" font-size="23.60" font-weight="bold" fill="#000">90</text>
<line x1="1146.50" y1="977.80" x2="1381.70" y2="977.80" stroke="#000" stroke-width="3.4" stroke-linecap="butt"/>
<line x1="1212.20" y1="977.80" x2="1212.20" y2="986.90" stroke="#000" stroke-width="3.0" stroke-linecap="butt"/>
<line x1="1323.80" y1="977.80" x2="1323.80" y2="986.90" stroke="#000" stroke-width="3.0" stroke-linecap="butt"/>
<line x1="1200.00" y1="665.90" x2="1327.20" y2="665.90" stroke="#333" stroke-width="2.0" stroke-linecap="butt"/>
<path d="M1249.20,646.80V657.40M1244.61,649.45L1253.79,654.75M1244.61,654.75L1253.79,649.45" stroke="#111" stroke-width="1.7" fill="none"/>
<path d="M1260.87,646.80V657.40M1256.28,649.45L1265.46,654.75M1256.28,654.75L1265.46,649.45" stroke="#111" stroke-width="1.7" fill="none"/>
<path d="M1272.53,646.80V657.40M1267.94,649.45L1277.12,654.75M1267.94,654.75L1277.12,649.45" stroke="#111" stroke-width="1.7" fill="none"/>
<path d="M1284.20,646.80V657.40M1279.61,649.45L1288.79,654.75M1279.61,654.75L1288.79,649.45" stroke="#111" stroke-width="1.7" fill="none"/>
<text transform="translate(1216.60,1009.20) rotate(-45) scale(0.8797,1)" x="-39.63" font-size="24.00" font-weight="bold" fill="#000" stroke="#000" stroke-width="0.35">Ctrl</text>
<text transform="translate(1328.20,1009.20) rotate(-45) scale(0.8703,1)" x="-117.08" font-size="24.00" font-weight="bold" fill="#000" stroke="#000" stroke-width="0.35">FABP7-Kd</text>
<text transform="translate(685.99,1190.00) scale(0.9943,1)" font-size="64.07" font-weight="bold" fill="#000">d</text>
<text transform="translate(824.96,1209.10) scale(0.9223,1)" font-size="30.08" font-weight="bold" fill="#000">Glycolysis</text>
<text transform="translate(708.00,1582.17) rotate(-90) scale(0.8193,1)" font-size="26.89" font-weight="bold" fill="#000">ECAR</text>
<text transform="translate(708.00,1513.42) rotate(-90) scale(1.0620,1)" font-size="26.89" font-weight="bold" fill="#000">(mpH/</text>
<text transform="translate(708.00,1431.59) rotate(-90) scale(1.0650,1)" font-size="26.89" font-weight="bold" fill="#000">min/</text>
<text transform="translate(708.00,1371.74) rotate(-90) scale(0.9459,1)" font-size="26.89" font-weight="bold" fill="#000">Cyquant)</text>
<rect x="797.00" y="1436.40" width="79.30" height="160.60" fill="#000"/>
<line x1="836.00" y1="1437.40" x2="836.00" y2="1394.30" stroke="#000" stroke-width="2.0" stroke-linecap="butt"/>
<line x1="817.00" y1="1394.30" x2="855.30" y2="1394.30" stroke="#000" stroke-width="2.0" stroke-linecap="butt"/>
<line x1="953.00" y1="1348.40" x2="953.00" y2="1287.60" stroke="#000" stroke-width="2.0" stroke-linecap="butt"/>
<line x1="934.30" y1="1287.60" x2="971.30" y2="1287.60" stroke="#000" stroke-width="2.0" stroke-linecap="butt"/>
<rect x="915.90" y="1349.00" width="74.80" height="248.00" fill="#fff" stroke="#000" stroke-width="3.2"/>
<line x1="778.70" y1="1245.70" x2="778.70" y2="1598.70" stroke="#000" stroke-width="3.4" stroke-linecap="butt"/>
<line x1="768.90" y1="1597.00" x2="778.70" y2="1597.00" stroke="#000" stroke-width="3.0" stroke-linecap="butt"/>
<text transform="translate(750.21,1607.12) scale(1.0270,1)" font-size="23.60" font-weight="bold" fill="#000">0</text>
<line x1="768.90" y1="1480.47" x2="778.70" y2="1480.47" stroke="#000" stroke-width="3.0" stroke-linecap="butt"/>
<text transform="translate(736.73,1490.59) scale(1.0270,1)" font-size="23.60" font-weight="bold" fill="#000">10</text>
<line x1="768.90" y1="1363.93" x2="778.70" y2="1363.93" stroke="#000" stroke-width="3.0" stroke-linecap="butt"/>
<text transform="translate(736.73,1374.06) scale(1.0270,1)" font-size="23.60" font-weight="bold" fill="#000">20</text>
<line x1="768.90" y1="1247.40" x2="778.70" y2="1247.40" stroke="#000" stroke-width="3.0" stroke-linecap="butt"/>
<text transform="translate(736.73,1257.52) scale(1.0270,1)" font-size="23.60" font-weight="bold" fill="#000">30</text>
<line x1="768.40" y1="1597.00" x2="1012.80" y2="1597.00" stroke="#000" stroke-width="3.4" stroke-linecap="butt"/>
<line x1="836.00" y1="1597.00" x2="836.00" y2="1606.10" stroke="#000" stroke-width="3.0" stroke-linecap="butt"/>
<line x1="952.80" y1="1597.00" x2="952.80" y2="1606.10" stroke="#000" stroke-width="3.0" stroke-linecap="butt"/>
<line x1="823.90" y1="1272.60" x2="955.70" y2="1272.60" stroke="#333" stroke-width="2.0" stroke-linecap="butt"/>
<path d="M874.70,1253.20V1263.80M870.11,1255.85L879.29,1261.15M870.11,1261.15L879.29,1255.85" stroke="#111" stroke-width="1.7" fill="none"/>
<path d="M887.10,1253.20V1263.80M882.51,1255.85L891.69,1261.15M882.51,1261.15L891.69,1255.85" stroke="#111" stroke-width="1.7" fill="none"/>
<path d="M899.50,1253.20V1263.80M894.91,1255.85L904.09,1261.15M894.91,1261.15L904.09,1255.85" stroke="#111" stroke-width="1.7" fill="none"/>
<path d="M911.90,1253.20V1263.80M907.31,1255.85L916.49,1261.15M907.31,1261.15L916.49,1255.85" stroke="#111" stroke-width="1.7" fill="none"/>
<text transform="translate(840.20,1631.00) rotate(-45) scale(0.8725,1)" x="-39.96" font-size="24.20" font-weight="bold" fill="#000" stroke="#000" stroke-width="0.35">Ctrl</text>
<text transform="translate(957.00,1631.00) rotate(-45) scale(0.8846,1)" x="-118.06" font-size="24.20" font-weight="bold" fill="#000" stroke="#000" stroke-width="0.35">FABP7-Kd</text>
<text transform="translate(1135.54,1209.30) scale(0.9641,1)" font-size="29.36" font-weight="bold" fill="#000">Glycolytic</text>
<text transform="translate(1277.39,1209.30) scale(0.9673,1)" font-size="29.36" font-weight="bold" fill="#000">capacity</text>
<text transform="translate(1075.00,1582.17) rotate(-90) scale(0.8193,1)" font-size="26.89" font-weight="bold" fill="#000">ECAR</text>
<text transform="translate(1075.00,1513.42) rotate(-90) scale(1.0620,1)" font-size="26.89" font-weight="bold" fill="#000">(mpH/</text>
<text transform="translate(1075.00,1431.59) rotate(-90) scale(1.0650,1)" font-size="26.89" font-weight="bold" fill="#000">min/</text>
<text transform="translate(1075.00,1371.74) rotate(-90) scale(0.9459,1)" font-size="26.89" font-weight="bold" fill="#000">Cyquant)</text>
<rect x="1165.50" y="1413.80" width="79.80" height="184.30" fill="#000"/>
<line x1="1205.50" y1="1414.80" x2="1205.50" y2="1379.90" stroke="#000" stroke-width="2.0" stroke-linecap="butt"/>
<line x1="1187.20" y1="1379.90" x2="1224.50" y2="1379.90" stroke="#000" stroke-width="2.0" stroke-linecap="butt"/>
<line x1="1322.00" y1="1385.00" x2="1322.00" y2="1346.10" stroke="#000" stroke-width="2.0" stroke-linecap="butt"/>
<line x1="1303.40" y1="1346.10" x2="1341.30" y2="1346.10" stroke="#000" stroke-width="2.0" stroke-linecap="butt"/>
<rect x="1284.90" y="1385.60" width="75.30" height="212.50" fill="#fff" stroke="#000" stroke-width="3.2"/>
<line x1="1147.70" y1="1246.30" x2="1147.70" y2="1599.80" stroke="#000" stroke-width="3.4" stroke-linecap="butt"/>
<line x1="1138.10" y1="1598.10" x2="1147.70" y2="1598.10" stroke="#000" stroke-width="3.0" stroke-linecap="butt"/>
<text transform="translate(1119.51,1608.22) scale(1.0270,1)" font-size="23.60" font-weight="bold" fill="#000">0</text>
<line x1="1138.10" y1="1481.40" x2="1147.70" y2="1481.40" stroke="#000" stroke-width="3.0" stroke-linecap="butt"/>
<text transform="translate(1106.03,1491.52) scale(1.0270,1)" font-size="23.60" font-weight="bold" fill="#000">50</text>
<line x1="1138.10" y1="1364.70" x2="1147.70" y2="1364.70" stroke="#000" stroke-width="3.0" stroke-linecap="butt"/>
<text transform="translate(1092.55,1374.82) scale(1.0270,1)" font-size="23.60" font-weight="bold" fill="#000">100</text>
<line x1="1138.10" y1="1248.00" x2="1147.70" y2="1248.00" stroke="#000" stroke-width="3.0" stroke-linecap="butt"/>
<text transform="translate(1092.55,1258.12) scale(1.0270,1)" font-size="23.60" font-weight="bold" fill="#000">150</text>
<line x1="1138.10" y1="1598.10" x2="1382.60" y2="1598.10" stroke="#000" stroke-width="3.4" stroke-linecap="butt"/>
<line x1="1205.80" y1="1598.10" x2="1205.80" y2="1608.00" stroke="#000" stroke-width="3.0" stroke-linecap="butt"/>
<line x1="1322.00" y1="1598.10" x2="1322.00" y2="1608.00" stroke="#000" stroke-width="3.0" stroke-linecap="butt"/>
<line x1="1193.30" y1="1318.10" x2="1325.30" y2="1318.10" stroke="#333" stroke-width="2.0" stroke-linecap="butt"/>
<path d="M1244.50,1298.70V1309.30M1239.91,1301.35L1249.09,1306.65M1239.91,1306.65L1249.09,1301.35" stroke="#111" stroke-width="1.7" fill="none"/>
<path d="M1256.57,1298.70V1309.30M1251.98,1301.35L1261.16,1306.65M1251.98,1306.65L1261.16,1301.35" stroke="#111" stroke-width="1.7" fill="none"/>
<path d="M1268.63,1298.70V1309.30M1264.04,1301.35L1273.22,1306.65M1264.04,1306.65L1273.22,1301.35" stroke="#111" stroke-width="1.7" fill="none"/>
<path d="M1280.70,1298.70V1309.30M1276.11,1301.35L1285.29,1306.65M1276.11,1306.65L1285.29,1301.35" stroke="#111" stroke-width="1.7" fill="none"/>
<text transform="translate(1210.00,1632.10) rotate(-45) scale(0.8853,1)" x="-39.96" font-size="24.20" font-weight="bold" fill="#000" stroke="#000" stroke-width="0.35">Ctrl</text>
<text transform="translate(1326.20,1632.10) rotate(-45) scale(0.8889,1)" x="-118.06" font-size="24.20" font-weight="bold" fill="#000" stroke="#000" stroke-width="0.35">FABP7-Kd</text>
<text transform="translate(24.88,1190.00) scale(0.8063,1)" font-size="64.07" font-weight="bold" fill="#000">c</text>
<text transform="translate(145.67,1209.80) scale(1.0429,1)" font-size="27.62" font-weight="bold" fill="#000">Extra</text>
<text transform="translate(226.87,1209.80) scale(1.0492,1)" font-size="27.62" font-weight="bold" fill="#000">cellular</text>
<text transform="translate(338.83,1209.80) scale(1.0762,1)" font-size="27.62" font-weight="bold" fill="#000">acidification</text>
<text transform="translate(519.18,1209.80) scale(1.1650,1)" font-size="27.62" font-weight="bold" fill="#000">rate</text>
<text transform="translate(22.80,1597.01) rotate(-90) scale(0.8262,1)" font-size="27.33" font-weight="bold" fill="#000">ECAR</text>
<text transform="translate(22.80,1525.00) rotate(-90) scale(1.0308,1)" font-size="27.33" font-weight="bold" fill="#000">(mPH/</text>
<text transform="translate(22.80,1443.45) rotate(-90) scale(1.0812,1)" font-size="27.33" font-weight="bold" fill="#000">min/</text>
<text transform="translate(22.80,1381.77) rotate(-90) scale(0.9515,1)" font-size="27.33" font-weight="bold" fill="#000">Cyquant)</text>
<line x1="94.00" y1="1252.10" x2="94.00" y2="1613.00" stroke="#000" stroke-width="3.4" stroke-linecap="butt"/>
<line x1="85.00" y1="1611.30" x2="94.00" y2="1611.30" stroke="#000" stroke-width="3.0" stroke-linecap="butt"/>
<text transform="translate(65.41,1621.42) scale(1.0270,1)" font-size="23.60" font-weight="bold" fill="#000">0</text>
<line x1="85.00" y1="1492.13" x2="94.00" y2="1492.13" stroke="#000" stroke-width="3.0" stroke-linecap="butt"/>
<text transform="translate(51.93,1502.26) scale(1.0270,1)" font-size="23.60" font-weight="bold" fill="#000">50</text>
<line x1="85.00" y1="1372.97" x2="94.00" y2="1372.97" stroke="#000" stroke-width="3.0" stroke-linecap="butt"/>
<text transform="translate(38.45,1383.09) scale(1.0270,1)" font-size="23.60" font-weight="bold" fill="#000">100</text>
<line x1="85.00" y1="1253.80" x2="94.00" y2="1253.80" stroke="#000" stroke-width="3.0" stroke-linecap="butt"/>
<text transform="translate(38.45,1263.92) scale(1.0270,1)" font-size="23.60" font-weight="bold" fill="#000">150</text>
<line x1="84.50" y1="1611.30" x2="631.60" y2="1611.30" stroke="#000" stroke-width="3.4" stroke-linecap="butt"/>
<line x1="116.50" y1="1611.30" x2="116.50" y2="1621.70" stroke="#000" stroke-width="3.0" stroke-linecap="butt"/>
<line x1="161.16" y1="1611.30" x2="161.16" y2="1621.70" stroke="#000" stroke-width="3.0" stroke-linecap="butt"/>
<line x1="205.82" y1="1611.30" x2="205.82" y2="1621.70" stroke="#000" stroke-width="3.0" stroke-linecap="butt"/>
<line x1="250.48" y1="1611.30" x2="250.48" y2="1621.70" stroke="#000" stroke-width="3.0" stroke-linecap="butt"/>
<line x1="295.14" y1="1611.30" x2="295.14" y2="1621.70" stroke="#000" stroke-width="3.0" stroke-linecap="butt"/>
<line x1="339.80" y1="1611.30" x2="339.80" y2="1621.70" stroke="#000" stroke-width="3.0" stroke-linecap="butt"/>
<line x1="384.46" y1="1611.30" x2="384.46" y2="1621.70" stroke="#000" stroke-width="3.0" stroke-linecap="butt"/>
<line x1="429.12" y1="1611.30" x2="429.12" y2="1621.70" stroke="#000" stroke-width="3.0" stroke-linecap="butt"/>
<line x1="473.78" y1="1611.30" x2="473.78" y2="1621.70" stroke="#000" stroke-width="3.0" stroke-linecap="butt"/>
<line x1="518.44" y1="1611.30" x2="518.44" y2="1621.70" stroke="#000" stroke-width="3.0" stroke-linecap="butt"/>
<line x1="563.10" y1="1611.30" x2="563.10" y2="1621.70" stroke="#000" stroke-width="3.0" stroke-linecap="butt"/>
<line x1="607.76" y1="1611.30" x2="607.76" y2="1621.70" stroke="#000" stroke-width="3.0" stroke-linecap="butt"/>
<text transform="translate(122.20,1641.80) rotate(-45) scale(1.0270,1)" x="-44.96" font-size="23.60" font-weight="bold" fill="#000">1.30</text>
<text transform="translate(166.86,1641.80) rotate(-45) scale(1.0270,1)" x="-45.08" font-size="23.60" font-weight="bold" fill="#000">7.76</text>
<text transform="translate(211.52,1641.80) rotate(-45) scale(1.0270,1)" x="-58.09" font-size="23.60" font-weight="bold" fill="#000">14.20</text>
<text transform="translate(256.18,1641.80) rotate(-45) scale(1.0270,1)" x="-58.02" font-size="23.60" font-weight="bold" fill="#000">20.77</text>
<text transform="translate(300.84,1641.80) rotate(-45) scale(1.0270,1)" x="-58.40" font-size="23.60" font-weight="bold" fill="#000">27.21</text>
<text transform="translate(345.50,1641.80) rotate(-45) scale(1.0270,1)" x="-58.33" font-size="23.60" font-weight="bold" fill="#000">33.68</text>
<text transform="translate(390.16,1641.80) rotate(-45) scale(1.0270,1)" x="-58.20" font-size="23.60" font-weight="bold" fill="#000">40.26</text>
<text transform="translate(434.82,1641.80) rotate(-45) scale(1.0270,1)" x="-58.93" font-size="23.60" font-weight="bold" fill="#000">46.74</text>
<text transform="translate(479.48,1641.80) rotate(-45) scale(1.0270,1)" x="-58.09" font-size="23.60" font-weight="bold" fill="#000">53.20</text>
<text transform="translate(524.14,1641.80) rotate(-45) scale(1.0270,1)" x="-58.18" font-size="23.60" font-weight="bold" fill="#000">59.79</text>
<text transform="translate(568.80,1641.80) rotate(-45) scale(1.0270,1)" x="-58.33" font-size="23.60" font-weight="bold" fill="#000">66.28</text>
<text transform="translate(613.46,1641.80) rotate(-45) scale(1.0270,1)" x="-58.40" font-size="23.60" font-weight="bold" fill="#000">72.75</text>
<text transform="translate(267.11,1731.10) scale(0.9750,1)" font-size="26.89" font-weight="bold" fill="#000">Time</text>
<text transform="translate(335.63,1731.10) scale(1.0201,1)" font-size="26.89" font-weight="bold" fill="#000">(minutes)</text>
<line x1="134.70" y1="1269.50" x2="172.90" y2="1269.50" stroke="#000" stroke-width="3.2" stroke-linecap="butt"/>
<circle cx="153.70" cy="1269.50" r="6.8" fill="#000"/>
<line x1="134.70" y1="1303.40" x2="172.90" y2="1303.40" stroke="#e60000" stroke-width="3.4" stroke-linecap="butt"/>
<polygon points="153.70,1296.60 160.90,1310.20 146.50,1310.20" fill="#e60000"/>
<text transform="translate(193.69,1279.40) scale(1.1210,1)" font-size="26.50" font-weight="normal" fill="#222" stroke="#222" stroke-width="0.15">Ctrl</text>
<text transform="translate(193.06,1312.80) scale(1.0538,1)" font-size="24.71" font-weight="normal" fill="#222" stroke="#222" stroke-width="0.15">FABP7-Kd</text>
<line x1="116.50" y1="1531.50" x2="116.50" y2="1526.00" stroke="#e60000" stroke-width="1.8" stroke-linecap="butt"/>
<line x1="109.60" y1="1526.00" x2="123.40" y2="1526.00" stroke="#e60000" stroke-width="2.0" stroke-linecap="butt"/>
<line x1="116.50" y1="1546.10" x2="116.50" y2="1546.10" stroke="#000" stroke-width="1.8" stroke-linecap="butt"/>
<line x1="109.60" y1="1546.10" x2="123.40" y2="1546.10" stroke="#000" stroke-width="2.0" stroke-linecap="butt"/>
<line x1="161.16" y1="1529.70" x2="161.16" y2="1524.30" stroke="#e60000" stroke-width="1.8" stroke-linecap="butt"/>
<line x1="154.26" y1="1524.30" x2="168.06" y2="1524.30" stroke="#e60000" stroke-width="2.0" stroke-linecap="butt"/>
<line x1="161.16" y1="1544.40" x2="161.16" y2="1544.40" stroke="#000" stroke-width="1.8" stroke-linecap="butt"/>
<line x1="154.26" y1="1544.40" x2="168.06" y2="1544.40" stroke="#000" stroke-width="2.0" stroke-linecap="butt"/>
<line x1="205.82" y1="1528.70" x2="205.82" y2="1522.70" stroke="#e60000" stroke-width="1.8" stroke-linecap="butt"/>
<line x1="198.92" y1="1522.70" x2="212.72" y2="1522.70" stroke="#e60000" stroke-width="2.0" stroke-linecap="butt"/>
<line x1="205.82" y1="1543.50" x2="205.82" y2="1543.50" stroke="#000" stroke-width="1.8" stroke-linecap="butt"/>
<line x1="198.92" y1="1543.50" x2="212.72" y2="1543.50" stroke="#000" stroke-width="2.0" stroke-linecap="butt"/>
<line x1="250.48" y1="1478.80" x2="250.48" y2="1469.60" stroke="#e60000" stroke-width="1.8" stroke-linecap="butt"/>
<line x1="243.58" y1="1469.60" x2="257.38" y2="1469.60" stroke="#e60000" stroke-width="2.0" stroke-linecap="butt"/>
<line x1="250.48" y1="1512.30" x2="250.48" y2="1512.30" stroke="#000" stroke-width="1.8" stroke-linecap="butt"/>
<line x1="243.58" y1="1512.30" x2="257.38" y2="1512.30" stroke="#000" stroke-width="2.0" stroke-linecap="butt"/>
<line x1="295.14" y1="1481.20" x2="295.14" y2="1473.50" stroke="#e60000" stroke-width="1.8" stroke-linecap="butt"/>
<line x1="288.24" y1="1473.50" x2="302.04" y2="1473.50" stroke="#e60000" stroke-width="2.0" stroke-linecap="butt"/>
<line x1="295.14" y1="1514.40" x2="295.14" y2="1514.40" stroke="#000" stroke-width="1.8" stroke-linecap="butt"/>
<line x1="288.24" y1="1514.40" x2="302.04" y2="1514.40" stroke="#000" stroke-width="2.0" stroke-linecap="butt"/>
<line x1="339.80" y1="1478.40" x2="339.80" y2="1470.00" stroke="#e60000" stroke-width="1.8" stroke-linecap="butt"/>
<line x1="332.90" y1="1470.00" x2="346.70" y2="1470.00" stroke="#e60000" stroke-width="2.0" stroke-linecap="butt"/>
<line x1="339.80" y1="1512.30" x2="339.80" y2="1512.30" stroke="#000" stroke-width="1.8" stroke-linecap="butt"/>
<line x1="332.90" y1="1512.30" x2="346.70" y2="1512.30" stroke="#000" stroke-width="2.0" stroke-linecap="butt"/>
<line x1="384.46" y1="1339.60" x2="384.46" y2="1324.80" stroke="#e60000" stroke-width="1.8" stroke-linecap="butt"/>
<line x1="377.56" y1="1324.80" x2="391.36" y2="1324.80" stroke="#e60000" stroke-width="2.0" stroke-linecap="butt"/>
<line x1="384.46" y1="1370.60" x2="384.46" y2="1356.40" stroke="#000" stroke-width="1.8" stroke-linecap="butt"/>
<line x1="377.56" y1="1356.40" x2="391.36" y2="1356.40" stroke="#000" stroke-width="2.0" stroke-linecap="butt"/>
<line x1="429.12" y1="1311.10" x2="429.12" y2="1295.00" stroke="#e60000" stroke-width="1.8" stroke-linecap="butt"/>
<line x1="422.22" y1="1295.00" x2="436.02" y2="1295.00" stroke="#e60000" stroke-width="2.0" stroke-linecap="butt"/>
<line x1="429.12" y1="1355.90" x2="429.12" y2="1342.10" stroke="#000" stroke-width="1.8" stroke-linecap="butt"/>
<line x1="422.22" y1="1342.10" x2="436.02" y2="1342.10" stroke="#000" stroke-width="2.0" stroke-linecap="butt"/>
<line x1="473.78" y1="1318.80" x2="473.78" y2="1302.00" stroke="#e60000" stroke-width="1.8" stroke-linecap="butt"/>
<line x1="466.88" y1="1302.00" x2="480.68" y2="1302.00" stroke="#e60000" stroke-width="2.0" stroke-linecap="butt"/>
<line x1="473.78" y1="1361.60" x2="473.78" y2="1348.60" stroke="#000" stroke-width="1.8" stroke-linecap="butt"/>
<line x1="466.88" y1="1348.60" x2="480.68" y2="1348.60" stroke="#000" stroke-width="2.0" stroke-linecap="butt"/>
<line x1="518.44" y1="1463.80" x2="518.44" y2="1453.50" stroke="#e60000" stroke-width="1.8" stroke-linecap="butt"/>
<line x1="511.54" y1="1453.50" x2="525.34" y2="1453.50" stroke="#e60000" stroke-width="2.0" stroke-linecap="butt"/>
<line x1="518.44" y1="1501.30" x2="518.44" y2="1494.50" stroke="#000" stroke-width="1.8" stroke-linecap="butt"/>
<line x1="511.54" y1="1494.50" x2="525.34" y2="1494.50" stroke="#000" stroke-width="2.0" stroke-linecap="butt"/>
<line x1="563.10" y1="1519.50" x2="563.10" y2="1511.20" stroke="#e60000" stroke-width="1.8" stroke-linecap="butt"/>
<line x1="556.20" y1="1511.20" x2="570.00" y2="1511.20" stroke="#e60000" stroke-width="2.0" stroke-linecap="butt"/>
<line x1="563.10" y1="1537.60" x2="563.10" y2="1537.60" stroke="#000" stroke-width="1.8" stroke-linecap="butt"/>
<line x1="556.20" y1="1537.60" x2="570.00" y2="1537.60" stroke="#000" stroke-width="2.0" stroke-linecap="butt"/>
<line x1="607.76" y1="1536.30" x2="607.76" y2="1529.80" stroke="#e60000" stroke-width="1.8" stroke-linecap="butt"/>
<line x1="600.86" y1="1529.80" x2="614.66" y2="1529.80" stroke="#e60000" stroke-width="2.0" stroke-linecap="butt"/>
<line x1="607.76" y1="1546.60" x2="607.76" y2="1546.60" stroke="#000" stroke-width="1.8" stroke-linecap="butt"/>
<line x1="600.86" y1="1546.60" x2="614.66" y2="1546.60" stroke="#000" stroke-width="2.0" stroke-linecap="butt"/>
<polyline points="116.50,1546.10 161.16,1544.40 205.82,1543.50 250.48,1512.30 295.14,1514.40 339.80,1512.30 384.46,1370.60 429.12,1355.90 473.78,1361.60 518.44,1501.30 563.10,1537.60 607.76,1546.60" fill="none" stroke="#000" stroke-width="3.3" stroke-linejoin="round"/>
<polyline points="116.50,1530.50 161.16,1528.70 205.82,1527.70 250.48,1477.80 295.14,1480.20 339.80,1477.40 384.46,1338.60 429.12,1310.10 473.78,1317.80 518.44,1462.80 563.10,1518.50 607.76,1535.30" fill="none" stroke="#e60000" stroke-width="3.8" stroke-linejoin="round"/>
<circle cx="116.50" cy="1546.10" r="6.9" fill="#000"/>
<circle cx="161.16" cy="1544.40" r="6.9" fill="#000"/>
<circle cx="205.82" cy="1543.50" r="6.9" fill="#000"/>
<circle cx="250.48" cy="1512.30" r="6.9" fill="#000"/>
<circle cx="295.14" cy="1514.40" r="6.9" fill="#000"/>
<circle cx="339.80" cy="1512.30" r="6.9" fill="#000"/>
<circle cx="384.46" cy="1370.60" r="6.9" fill="#000"/>
<circle cx="429.12" cy="1355.90" r="6.9" fill="#000"/>
<circle cx="473.78" cy="1361.60" r="6.9" fill="#000"/>
<circle cx="518.44" cy="1501.30" r="6.9" fill="#000"/>
<circle cx="563.10" cy="1537.60" r="6.9" fill="#000"/>
<circle cx="607.76" cy="1546.60" r="6.9" fill="#000"/>
<polygon points="116.50,1524.50 123.70,1538.50 109.30,1538.50" fill="#e60000"/>
<polygon points="161.16,1522.70 168.36,1536.70 153.96,1536.70" fill="#e60000"/>
<polygon points="205.82,1521.70 213.02,1535.70 198.62,1535.70" fill="#e60000"/>
<polygon points="250.48,1471.80 257.68,1485.80 243.28,1485.80" fill="#e60000"/>
<polygon points="295.14,1474.20 302.34,1488.20 287.94,1488.20" fill="#e60000"/>
<polygon points="339.80,1471.40 347.00,1485.40 332.60,1485.40" fill="#e60000"/>
<polygon points="384.46,1332.60 391.66,1346.60 377.26,1346.60" fill="#e60000"/>
<polygon points="429.12,1304.10 436.32,1318.10 421.92,1318.10" fill="#e60000"/>
<polygon points="473.78,1311.80 480.98,1325.80 466.58,1325.80" fill="#e60000"/>
<polygon points="518.44,1456.80 525.64,1470.80 511.24,1470.80" fill="#e60000"/>
<polygon points="563.10,1512.50 570.30,1526.50 555.90,1526.50" fill="#e60000"/>
<polygon points="607.76,1529.30 614.96,1543.30 600.56,1543.30" fill="#e60000"/>
<path d="M244.70,1417.50H255.50M247.40,1412.82L252.80,1422.18M247.40,1422.18L252.80,1412.82" stroke="#c42a2a" stroke-width="1.45" fill="none"/>
<path d="M244.70,1428.00H255.50M247.40,1423.32L252.80,1432.68M247.40,1432.68L252.80,1423.32" stroke="#c42a2a" stroke-width="1.45" fill="none"/>
<path d="M244.70,1438.50H255.50M247.40,1433.82L252.80,1443.18M247.40,1443.18L252.80,1433.82" stroke="#c42a2a" stroke-width="1.45" fill="none"/>
<path d="M244.70,1449.00H255.50M247.40,1444.32L252.80,1453.68M247.40,1453.68L252.80,1444.32" stroke="#c42a2a" stroke-width="1.45" fill="none"/>
<path d="M286.30,1417.50H297.10M289.00,1412.82L294.40,1422.18M289.00,1422.18L294.40,1412.82" stroke="#c42a2a" stroke-width="1.45" fill="none"/>
<path d="M286.30,1428.00H297.10M289.00,1423.32L294.40,1432.68M289.00,1432.68L294.40,1423.32" stroke="#c42a2a" stroke-width="1.45" fill="none"/>
<path d="M286.30,1438.50H297.10M289.00,1433.82L294.40,1443.18M289.00,1443.18L294.40,1433.82" stroke="#c42a2a" stroke-width="1.45" fill="none"/>
<path d="M286.30,1449.00H297.10M289.00,1444.32L294.40,1453.68M289.00,1453.68L294.40,1444.32" stroke="#c42a2a" stroke-width="1.45" fill="none"/>
<path d="M331.60,1417.50H342.40M334.30,1412.82L339.70,1422.18M334.30,1422.18L339.70,1412.82" stroke="#c42a2a" stroke-width="1.45" fill="none"/>
<path d="M331.60,1428.00H342.40M334.30,1423.32L339.70,1432.68M334.30,1432.68L339.70,1423.32" stroke="#c42a2a" stroke-width="1.45" fill="none"/>
<path d="M331.60,1438.50H342.40M334.30,1433.82L339.70,1443.18M334.30,1443.18L339.70,1433.82" stroke="#c42a2a" stroke-width="1.45" fill="none"/>
<path d="M331.60,1449.00H342.40M334.30,1444.32L339.70,1453.68M334.30,1453.68L339.70,1444.32" stroke="#c42a2a" stroke-width="1.45" fill="none"/>
<path d="M378.40,1255.00H389.20M381.10,1250.32L386.50,1259.68M381.10,1259.68L386.50,1250.32" stroke="#c42a2a" stroke-width="1.45" fill="none"/>
<path d="M378.40,1265.50H389.20M381.10,1260.82L386.50,1270.18M381.10,1270.18L386.50,1260.82" stroke="#c42a2a" stroke-width="1.45" fill="none"/>
<path d="M378.40,1276.00H389.20M381.10,1271.32L386.50,1280.68M381.10,1280.68L386.50,1271.32" stroke="#c42a2a" stroke-width="1.45" fill="none"/>
<path d="M378.40,1286.50H389.20M381.10,1281.82L386.50,1291.18M381.10,1291.18L386.50,1281.82" stroke="#c42a2a" stroke-width="1.45" fill="none"/>
<path d="M424.30,1244.00H435.10M427.00,1239.32L432.40,1248.68M427.00,1248.68L432.40,1239.32" stroke="#c42a2a" stroke-width="1.45" fill="none"/>
<path d="M424.30,1254.50H435.10M427.00,1249.82L432.40,1259.18M427.00,1259.18L432.40,1249.82" stroke="#c42a2a" stroke-width="1.45" fill="none"/>
<path d="M424.30,1265.00H435.10M427.00,1260.32L432.40,1269.68M427.00,1269.68L432.40,1260.32" stroke="#c42a2a" stroke-width="1.45" fill="none"/>
<path d="M424.30,1275.50H435.10M427.00,1270.82L432.40,1280.18M427.00,1280.18L432.40,1270.82" stroke="#c42a2a" stroke-width="1.45" fill="none"/>
<path d="M471.60,1255.00H482.40M474.30,1250.32L479.70,1259.68M474.30,1259.68L479.70,1250.32" stroke="#c42a2a" stroke-width="1.45" fill="none"/>
<path d="M471.60,1265.50H482.40M474.30,1260.82L479.70,1270.18M474.30,1270.18L479.70,1260.82" stroke="#c42a2a" stroke-width="1.45" fill="none"/>
<path d="M471.60,1276.00H482.40M474.30,1271.32L479.70,1280.68M474.30,1280.68L479.70,1271.32" stroke="#c42a2a" stroke-width="1.45" fill="none"/>
<path d="M471.60,1286.50H482.40M474.30,1281.82L479.70,1291.18M474.30,1291.18L479.70,1281.82" stroke="#c42a2a" stroke-width="1.45" fill="none"/>
<path d="M515.60,1406.00H526.40M518.30,1401.32L523.70,1410.68M518.30,1410.68L523.70,1401.32" stroke="#c42a2a" stroke-width="1.45" fill="none"/>
<path d="M515.60,1416.50H526.40M518.30,1411.82L523.70,1421.18M518.30,1421.18L523.70,1411.82" stroke="#c42a2a" stroke-width="1.45" fill="none"/>
<path d="M515.60,1427.00H526.40M518.30,1422.32L523.70,1431.68M518.30,1431.68L523.70,1422.32" stroke="#c42a2a" stroke-width="1.45" fill="none"/>
<path d="M515.60,1437.50H526.40M518.30,1432.82L523.70,1442.18M518.30,1442.18L523.70,1432.82" stroke="#c42a2a" stroke-width="1.45" fill="none"/>
<path d="M557.60,1479.30H568.40M560.30,1474.62L565.70,1483.98M560.30,1483.98L565.70,1474.62" stroke="#c42a2a" stroke-width="1.45" fill="none"/>
<line x1="204.20" y1="1440.00" x2="204.20" y2="1481.50" stroke="#000" stroke-width="3.3" stroke-linecap="butt"/>
<polygon points="194.20,1480.50 214.20,1480.50 204.20,1498.00" fill="#000"/>
<text transform="translate(190.35,1430.90) scale(1.1529,1)" font-size="19.76" font-weight="normal" fill="#000" stroke="#000" stroke-width="0.45">Glu</text>
<line x1="341.80" y1="1343.90" x2="341.80" y2="1384.20" stroke="#000" stroke-width="3.3" stroke-linecap="butt"/>
<polygon points="331.80,1383.20 351.80,1383.20 341.80,1400.70" fill="#000"/>
<text transform="translate(318.80,1334.00) scale(1.0927,1)" font-size="21.20" font-weight="normal" fill="#000" stroke="#000" stroke-width="0.45">Oligo</text>
<line x1="473.70" y1="1454.80" x2="473.70" y2="1414.40" stroke="#000" stroke-width="3.3" stroke-linecap="butt"/>
<polygon points="463.70,1415.40 483.70,1415.40 473.70,1397.30" fill="#000"/>
<text transform="translate(451.07,1484.50) scale(0.9939,1)" font-size="22.53" font-weight="normal" fill="#000" stroke="#000" stroke-width="0.45">2-DG</text>
</svg>
</body></html>
